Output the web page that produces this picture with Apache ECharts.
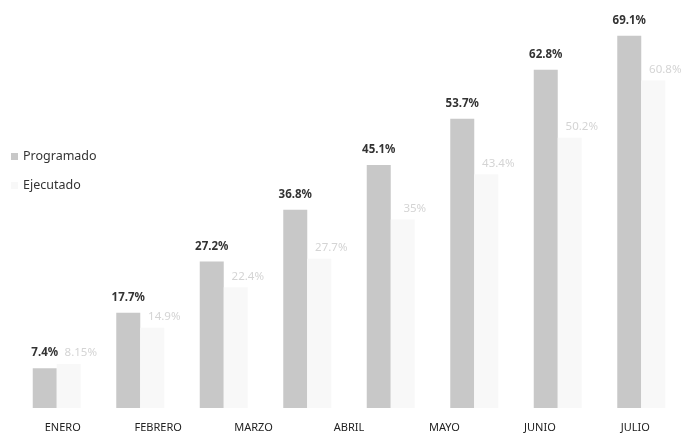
<!DOCTYPE html>
<html>
<head>
<meta charset="utf-8">
<script src="https://cdn.jsdelivr.net/npm/echarts@6/dist/echarts.min.js"></script>
<style>html,body{margin:0;padding:0;background:#fff;}#c{width:683px;height:443px;}</style>
</head>
<body>
<div id="c"></div>
<script>
// Month labels shown under the chart (7 labels, as in the reference)
var monthLabels = ['ENERO', 'FEBRERO', 'MARZO', 'ABRIL', 'MAYO', 'JUNIO', 'JULIO'];
// Bar groups (8 groups drawn in the reference)
var barGroups = ['1', '2', '3', '4', '5', '6', '7', '8'];
var programado = [7.4, 17.7, 27.2, 36.8, 45.1, 53.7, 62.8, 69.1];
var ejecutado = [8.15, 14.9, 22.4, 27.7, 35, 43.4, 50.2, 60.8];

var chart = echarts.init(document.getElementById('c'), null, {renderer: 'canvas'});
var font = 'Noto Sans';
chart.setOption({
  animation: false,
  backgroundColor: '#ffffff',
  textStyle: {fontFamily: font},
  legend: {
    orient: 'vertical',
    left: 6,
    top: 145,
    itemWidth: 7,
    itemHeight: 7,
    itemGap: 16,
    icon: 'rect',
    textStyle: {fontSize: 12.5, color: '#333', fontFamily: font},
    data: ['Programado', 'Ejecutado']
  },
  grid: {left: 15, right: 0, top: 31, bottom: 35, containLabel: false},
  xAxis: [
    {type: 'category', data: barGroups, show: false, gridIndex: 0},
    {
      type: 'category', data: monthLabels, position: 'bottom', gridIndex: 0,
      axisLine: {show: false}, axisTick: {show: false},
      axisLabel: {margin: 14, fontSize: 11, color: '#222', fontFamily: font}
    }
  ],
  yAxis: {type: 'value', min: 0, max: 70, show: false, splitLine: {show: false}},
  series: [
    {
      name: 'Programado', type: 'bar', xAxisIndex: 0, data: programado,
      barWidth: 24, barGap: '0%',
      itemStyle: {color: '#c8c8c8'},
      label: {
        show: true, position: 'top', distance: 9,
        formatter: function (p) { return p.value + '%'; },
        color: '#333', fontSize: 11.5, fontWeight: 'bold', fontFamily: font
      }
    },
    {
      name: 'Ejecutado', type: 'bar', xAxisIndex: 0, data: ejecutado,
      barWidth: 24,
      itemStyle: {color: '#f8f8f8'},
      label: {
        show: true, position: 'top', distance: 5, offset: [12, 0],
        formatter: function (p) { return p.value + '%'; },
        color: '#d4d4d4', fontSize: 11.5, fontFamily: font
      }
    }
  ]
});
</script>
</body>
</html>
